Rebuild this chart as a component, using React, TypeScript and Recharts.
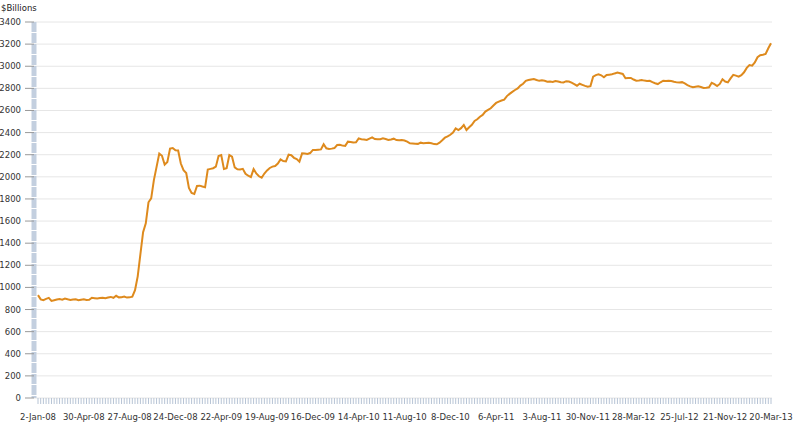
import { LineChart, Line, XAxis, YAxis, CartesianGrid } from 'recharts'

// weekly totals, $ billions, one value per Wednesday from 2-Jan-08
const assets2008 = [
  930, 892, 885, 896, 905, 878, 884, 890, 894, 889,
  900, 893, 887, 891, 893, 885, 889, 893, 886, 888,
  906, 903, 899, 904, 906, 902, 908, 914, 906, 924,
  910, 912, 917, 908, 910, 916, 975, 1100, 1300, 1500,
  1580, 1770, 1805, 1970, 2090, 2210, 2190, 2110, 2135, 2255,
  2260, 2240, 2238,
]
const assets2009 = [
  2120, 2060, 2035, 1900, 1855, 1845, 1918, 1920, 1912, 1905,
  2066, 2072, 2078, 2092, 2188, 2197, 2070, 2077, 2197, 2182,
  2085, 2068, 2066, 2072, 2028, 2010, 1998, 2070, 2030, 2005,
  1992, 2030, 2058, 2080, 2092, 2098, 2120, 2158, 2143, 2140,
  2200, 2195, 2172, 2160, 2137, 2212, 2210, 2206, 2215, 2243,
  2242, 2245,
]
const assets2010 = [
  2248, 2294, 2258, 2252, 2255, 2260, 2288, 2290, 2282, 2280,
  2318, 2315, 2310, 2312, 2348, 2340, 2338, 2333, 2345, 2357,
  2342, 2339, 2340, 2348, 2342, 2333, 2338, 2345, 2332, 2330,
  2332, 2328, 2318, 2303, 2302, 2300, 2298, 2309, 2304, 2306,
  2308, 2303, 2296, 2294, 2309, 2330, 2354, 2365, 2380, 2400,
  2438, 2423,
]
const assets2011 = [
  2440, 2469, 2423, 2448, 2470, 2505, 2520, 2544, 2560, 2590,
  2605, 2620, 2645, 2668, 2680, 2690, 2698, 2730, 2750, 2768,
  2785, 2800, 2825, 2842, 2868, 2875, 2880, 2885, 2876, 2868,
  2873, 2868, 2860, 2862, 2858, 2867, 2862, 2856, 2854, 2865,
  2862, 2851, 2838, 2824, 2842, 2832, 2822, 2815, 2820, 2905,
  2920, 2927,
]
const assets2012 = [
  2918, 2900, 2921, 2924, 2927, 2935, 2942, 2936, 2930, 2891,
  2893, 2894, 2880, 2869, 2872, 2876, 2870, 2867, 2868, 2856,
  2846, 2839, 2855, 2869, 2866, 2868, 2867, 2860, 2854, 2852,
  2856, 2845, 2830, 2818, 2810, 2815, 2818, 2812, 2803, 2805,
  2809, 2850, 2838, 2821, 2840, 2882, 2862, 2854, 2890, 2922,
  2915, 2906,
]
const assets2013 = [2920, 2945, 2985, 3011, 3005, 3035, 3082, 3100, 3104, 3111, 3162, 3207]

const tickLabels = [
  '2-Jan-08', '30-Apr-08', '27-Aug-08', '24-Dec-08', '22-Apr-09', '19-Aug-09',
  '16-Dec-09', '14-Apr-10', '11-Aug-10', '8-Dec-10', '6-Apr-11', '3-Aug-11',
  '30-Nov-11', '28-Mar-12', '25-Jul-12', '21-Nov-12', '20-Mar-13',
]
const yTicks = [0, 200, 400, 600, 800, 1000, 1200, 1400, 1600, 1800, 2000, 2200, 2400, 2600, 2800, 3000, 3200, 3400]

const MONTHS = ['Jan', 'Feb', 'Mar', 'Apr', 'May', 'Jun', 'Jul', 'Aug', 'Sep', 'Oct', 'Nov', 'Dec']
const fmtDate = (t: number) => {
  const d = new Date(t)
  return `${d.getUTCDate()}-${MONTHS[d.getUTCMonth()]}-${String(d.getUTCFullYear()).slice(2)}`
}

const values = [...assets2008, ...assets2009, ...assets2010, ...assets2011, ...assets2012, ...assets2013]
const start = Date.UTC(2008, 0, 2)
const data = values.map((v, i) => ({ week: fmtDate(start + i * 7 * 86400000), total: v }))

const FONT = '"DejaVu Sans", Verdana, sans-serif'

const DateTick = (props: any) => {
  const { x, y, payload } = props
  if (!tickLabels.includes(payload.value)) return null
  return (
    <text x={x} y={y} dy="0.71em" textAnchor="middle" fill="#333" fontSize={8.5} fontFamily={FONT}>
      {payload.value}
    </text>
  )
}

export default function App() {
  return (
    <div style={{ position: 'absolute', left: 0, top: 0, width: 800, height: 424, background: '#fff' }}>
      <div style={{
        position: 'absolute', left: 1, top: 3, fontSize: '8.5px', lineHeight: '10px',
        fontFamily: FONT, color: '#222',
      }}>
        $Billions
      </div>
      <LineChart width={800} height={424} data={data} margin={{ top: 22, right: 28, bottom: 0, left: 0 }}>
        <CartesianGrid vertical={false} stroke="#e6e6e6" />
        <XAxis
          dataKey="week" scale="point" interval={0} height={26}
          padding={{ left: 4, right: 1 }}
          axisLine={false} tickSize={6} tickMargin={10}
          tickLine={{ stroke: '#b7c4d5' }}
          tick={<DateTick />}
        />
        <YAxis
          width={34} domain={[0, 3400]} ticks={yTicks} interval={0}
          axisLine={{ stroke: '#c3cfdf', strokeWidth: 5, strokeDasharray: '10 1' }}
          tickLine={{ stroke: '#999' }} tickSize={9} tickMargin={4}
          tick={{ fill: '#333', fontSize: 8.5, fontFamily: FONT }}
        />
        <Line
          type="linear" dataKey="total" stroke="#de8a1d" strokeWidth={2}
          dot={false} isAnimationActive={false}
        />
      </LineChart>
    </div>
  )
}
